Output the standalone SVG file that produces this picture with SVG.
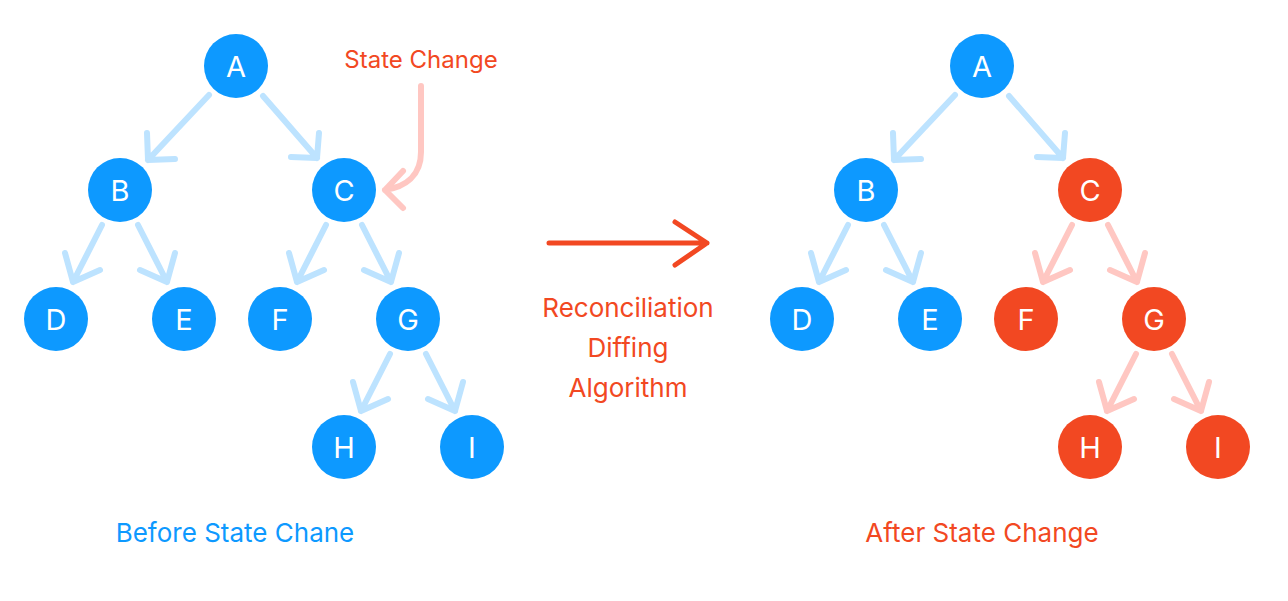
<svg xmlns="http://www.w3.org/2000/svg" width="1288" height="601" viewBox="0 0 1288 601">
<defs>
<style>
.bg{fill:#FFFFFF}
.nb{fill:#0D99FF}
.nr{fill:#F24822}
.lt{fill:#FFFFFF;font-family:Inter,"Liberation Sans",sans-serif;font-size:29px;text-anchor:middle}
.cb{fill:none;stroke:#BDE3FF;stroke-width:6;stroke-linecap:round;stroke-linejoin:round}
.cr{fill:none;stroke:#FFC7C2;stroke-width:6;stroke-linecap:round;stroke-linejoin:round}
.big{fill:none;stroke:#F24822;stroke-width:5;stroke-linecap:round;stroke-linejoin:round}
.tr{fill:#F24822;font-family:Inter,"Liberation Sans",sans-serif;font-size:26px;text-anchor:middle}
.ts{fill:#F24822;font-family:Inter,"Liberation Sans",sans-serif;font-size:24px;text-anchor:middle}
.tb{fill:#0D99FF;font-family:Inter,"Liberation Sans",sans-serif;font-size:26px;text-anchor:middle}
</style>
</defs>
<rect class="bg" x="0" y="0" width="1288" height="601"/>
<g id="connectors">
<path class="cb" d="M209,95 L148,160 M147,133 L148,160 L175,159"/>
<path class="cb" d="M263,96 L317,158 M319,133 L317,158 L291,157"/>
<path class="cb" transform="translate(120,190)" d="M-18,35 L-47,92 M-55,63 L-47,92 L-20,80"/>
<path class="cb" transform="translate(120,190)" d="M18,35 L47,92 M55,63 L47,92 L20,80"/>
<path class="cb" transform="translate(344,190)" d="M-18,35 L-47,92 M-55,63 L-47,92 L-20,80"/>
<path class="cb" transform="translate(344,190)" d="M18,35 L47,92 M55,63 L47,92 L20,80"/>
<path class="cb" transform="translate(408,319)" d="M-18,35 L-47,92 M-55,63 L-47,92 L-20,80"/>
<path class="cb" transform="translate(408,319)" d="M18,35 L47,92 M55,63 L47,92 L20,80"/>
<path class="cr" d="M421,86 V152 C421,176 405,187 385,190 M403,171 L385,190 L403,208"/>
<path class="big" d="M549,243 H707 M675,222 L707,243 L675,265"/>
<g transform="translate(746,0)">
<path class="cb" d="M209,95 L148,160 M147,133 L148,160 L175,159"/>
<path class="cb" d="M263,96 L317,158 M319,133 L317,158 L291,157"/>
<path class="cb" transform="translate(120,190)" d="M-18,35 L-47,92 M-55,63 L-47,92 L-20,80"/>
<path class="cb" transform="translate(120,190)" d="M18,35 L47,92 M55,63 L47,92 L20,80"/>
<path class="cr" transform="translate(344,190)" d="M-18,35 L-47,92 M-55,63 L-47,92 L-20,80"/>
<path class="cr" transform="translate(344,190)" d="M18,35 L47,92 M55,63 L47,92 L20,80"/>
<path class="cr" transform="translate(408,319)" d="M-18,35 L-47,92 M-55,63 L-47,92 L-20,80"/>
<path class="cr" transform="translate(408,319)" d="M18,35 L47,92 M55,63 L47,92 L20,80"/>
</g>
</g>
<g id="L-A"><circle class="nb" cx="236" cy="66" r="32"/><text class="lt" x="236" y="77">A</text></g>
<g id="L-B"><circle class="nb" cx="120" cy="190" r="32"/><text class="lt" x="120" y="201">B</text></g>
<g id="L-C"><circle class="nb" cx="344" cy="190" r="32"/><text class="lt" x="344" y="201">C</text></g>
<g id="L-D"><circle class="nb" cx="56" cy="319" r="32"/><text class="lt" x="56" y="330">D</text></g>
<g id="L-E"><circle class="nb" cx="184" cy="319" r="32"/><text class="lt" x="184" y="330">E</text></g>
<g id="L-F"><circle class="nb" cx="280" cy="319" r="32"/><text class="lt" x="280" y="330">F</text></g>
<g id="L-G"><circle class="nb" cx="408" cy="319" r="32"/><text class="lt" x="408" y="330">G</text></g>
<g id="L-H"><circle class="nb" cx="344" cy="447" r="32"/><text class="lt" x="344" y="458">H</text></g>
<g id="L-I"><circle class="nb" cx="472" cy="447" r="32"/><text class="lt" x="472" y="458">I</text></g>
<g id="R-A"><circle class="nb" cx="982" cy="66" r="32"/><text class="lt" x="982" y="77">A</text></g>
<g id="R-B"><circle class="nb" cx="866" cy="190" r="32"/><text class="lt" x="866" y="201">B</text></g>
<g id="R-C"><circle class="nr" cx="1090" cy="190" r="32"/><text class="lt" x="1090" y="201">C</text></g>
<g id="R-D"><circle class="nb" cx="802" cy="319" r="32"/><text class="lt" x="802" y="330">D</text></g>
<g id="R-E"><circle class="nb" cx="930" cy="319" r="32"/><text class="lt" x="930" y="330">E</text></g>
<g id="R-F"><circle class="nr" cx="1026" cy="319" r="32"/><text class="lt" x="1026" y="330">F</text></g>
<g id="R-G"><circle class="nr" cx="1154" cy="319" r="32"/><text class="lt" x="1154" y="330">G</text></g>
<g id="R-H"><circle class="nr" cx="1090" cy="447" r="32"/><text class="lt" x="1090" y="458">H</text></g>
<g id="R-I"><circle class="nr" cx="1218" cy="447" r="32"/><text class="lt" x="1218" y="458">I</text></g>
<g id="labels">
<text class="ts" x="421" y="68">State Change</text>
<text class="tr" x="628" y="317">Reconciliation</text>
<text class="tr" x="628" y="357">Diffing</text>
<text class="tr" x="628" y="397">Algorithm</text>
<text class="tb" x="235" y="542">Before State Chane</text>
<text class="tr" x="982" y="542">After State Change</text>
</g>
</svg>
